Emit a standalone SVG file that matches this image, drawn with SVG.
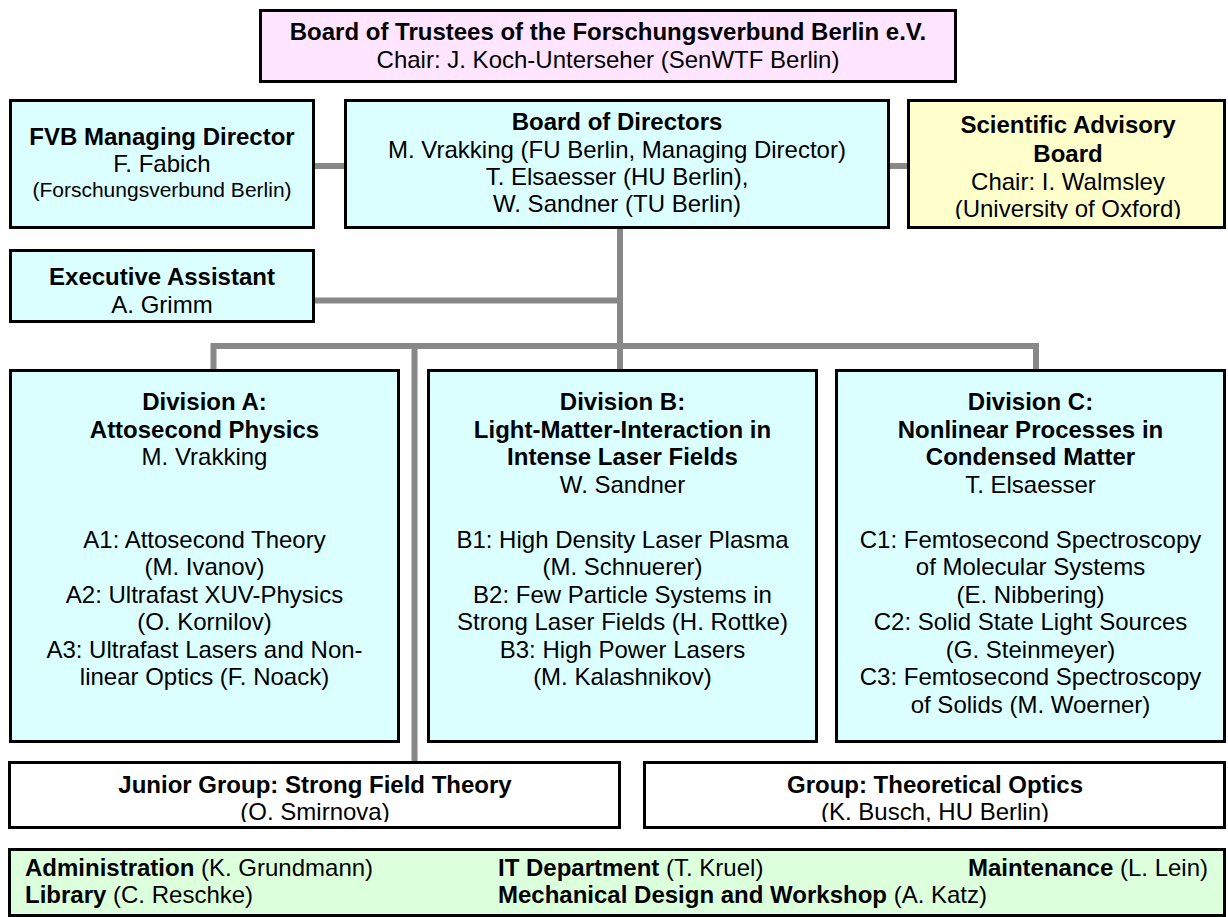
<svg xmlns="http://www.w3.org/2000/svg" width="1228" height="917" viewBox="0 0 1228 917">
<style>
text{font-family:"Liberation Sans",Arial,sans-serif;font-size:24px;fill:#000}
.c{text-anchor:middle}
.b{font-weight:bold}
.sm{font-size:21px}
.box{stroke:#000;stroke-width:3}
.cyan{fill:#dbffff}
.pink{fill:#ffe5ff}
.yellow{fill:#ffffcc}
.white{fill:#ffffff}
.green{fill:#dcffdc}
</style>
<defs>
<clipPath id="clipSAB"><rect x="908" y="100" width="318" height="119"/></clipPath>
<clipPath id="clipJG"><rect x="9" y="762" width="612" height="60"/></clipPath>
<clipPath id="clipTO"><rect x="644" y="762" width="582" height="60"/></clipPath>
</defs>
<rect width="1228" height="917" fill="#fff"/>
<g id="connectors" stroke="#888" stroke-width="6" fill="none" stroke-linejoin="miter">
<line x1="313" y1="166" x2="346" y2="166"/>
<line x1="888" y1="166" x2="909" y2="166"/>
<line x1="620" y1="228" x2="620" y2="370"/>
<line x1="313" y1="300.5" x2="620" y2="300.5"/>
<path d="M213.5 370 V346 H1036 V370"/>
<line x1="414.5" y1="346" x2="414.5" y2="762"/>
</g>
<g id="trustees">
<rect class="box pink" x="260.5" y="10.5" width="695" height="71"/>
<text class="c b" x="608" y="40">Board of Trustees of the Forschungsverbund Berlin e.V.</text>
<text class="c" x="608" y="68">Chair: J. Koch-Unterseher (SenWTF Berlin)</text>
</g>
<g id="fvb">
<rect class="box cyan" x="10.5" y="100.5" width="303" height="127"/>
<text class="c b" x="162" y="145">FVB Managing Director</text>
<text class="c" x="162" y="172">F. Fabich</text>
<text class="c sm" x="162" y="197">(Forschungsverbund Berlin)</text>
</g>
<g id="directors">
<rect class="box cyan" x="345.5" y="100.5" width="543" height="127"/>
<text class="c b" x="617" y="130">Board of Directors</text>
<text class="c" x="617" y="158">M. Vrakking (FU Berlin, Managing Director)</text>
<text class="c" x="617" y="185">T. Elsaesser (HU Berlin),</text>
<text class="c" x="617" y="212">W. Sandner (TU Berlin)</text>
</g>
<g id="advisory">
<rect class="box yellow" x="908.5" y="100.5" width="316" height="127"/>
<text class="c b" x="1068" y="133">Scientific Advisory</text>
<text class="c b" x="1068" y="162">Board</text>
<text class="c" x="1068" y="190">Chair: I. Walmsley</text>
<text class="c" x="1068" y="217" clip-path="url(#clipSAB)">(University of Oxford)</text>
</g>
<g id="assistant">
<rect class="box cyan" x="10.5" y="250.5" width="303" height="71"/>
<text class="c b" x="162" y="285">Executive Assistant</text>
<text class="c" x="162" y="312.5">A. Grimm</text>
</g>
<g id="divA">
<rect class="box cyan" x="10.5" y="370.5" width="388" height="371"/>
<text class="c b" x="204.5" y="410">Division A:</text>
<text class="c b" x="204.5" y="437.5">Attosecond Physics</text>
<text class="c" x="204.5" y="465">M. Vrakking</text>
<text class="c" x="204.5" y="547.5">A1: Attosecond Theory</text>
<text class="c" x="204.5" y="575">(M. Ivanov)</text>
<text class="c" x="204.5" y="602.5">A2: Ultrafast XUV-Physics</text>
<text class="c" x="204.5" y="630">(O. Kornilov)</text>
<text class="c" x="204.5" y="657.5">A3: Ultrafast Lasers and Non-</text>
<text class="c" x="204.5" y="685">linear Optics (F. Noack)</text>
</g>
<g id="divB">
<rect class="box cyan" x="428.5" y="370.5" width="388" height="371"/>
<text class="c b" x="622.5" y="410">Division B:</text>
<text class="c b" x="622.5" y="437.5">Light-Matter-Interaction in</text>
<text class="c b" x="622.5" y="465">Intense Laser Fields</text>
<text class="c" x="622.5" y="492.5">W. Sandner</text>
<text class="c" x="622.5" y="547.5">B1: High Density Laser Plasma</text>
<text class="c" x="622.5" y="575">(M. Schnuerer)</text>
<text class="c" x="622.5" y="602.5">B2: Few Particle Systems in</text>
<text class="c" x="622.5" y="630">Strong Laser Fields (H. Rottke)</text>
<text class="c" x="622.5" y="657.5">B3: High Power Lasers</text>
<text class="c" x="622.5" y="685">(M. Kalashnikov)</text>
</g>
<g id="divC">
<rect class="box cyan" x="836.5" y="370.5" width="388" height="371"/>
<text class="c b" x="1030.5" y="410">Division C:</text>
<text class="c b" x="1030.5" y="437.5">Nonlinear Processes in</text>
<text class="c b" x="1030.5" y="465">Condensed Matter</text>
<text class="c" x="1030.5" y="492.5">T. Elsaesser</text>
<text class="c" x="1030.5" y="547.5">C1: Femtosecond Spectroscopy</text>
<text class="c" x="1030.5" y="575">of Molecular Systems</text>
<text class="c" x="1030.5" y="602.5">(E. Nibbering)</text>
<text class="c" x="1030.5" y="630">C2: Solid State Light Sources</text>
<text class="c" x="1030.5" y="657.5">(G. Steinmeyer)</text>
<text class="c" x="1030.5" y="685">C3: Femtosecond Spectroscopy</text>
<text class="c" x="1030.5" y="712.5">of Solids (M. Woerner)</text>
</g>
<g id="junior">
<rect class="box white" x="9.5" y="762.5" width="610" height="65"/>
<text class="c b" x="315" y="793">Junior Group: Strong Field Theory</text>
<text class="c" x="315" y="820" clip-path="url(#clipJG)">(O. Smirnova)</text>
</g>
<g id="theoptics">
<rect class="box white" x="644.5" y="762.5" width="580" height="65"/>
<text class="c b" x="935" y="793">Group: Theoretical Optics</text>
<text class="c" x="935" y="820" clip-path="url(#clipTO)">(K. Busch, HU Berlin)</text>
</g>
<g id="services">
<rect class="box green" x="9.5" y="849.5" width="1215" height="66"/>
<text x="25" y="876"><tspan class="b">Administration</tspan> (K. Grundmann)</text>
<text x="25" y="903"><tspan class="b">Library</tspan> (C. Reschke)</text>
<text x="498" y="876"><tspan class="b">IT Department</tspan> (T. Kruel)</text>
<text x="498" y="903"><tspan class="b">Mechanical Design and Workshop</tspan> (A. Katz)</text>
<text x="1208" y="876" text-anchor="end"><tspan class="b">Maintenance</tspan> (L. Lein)</text>
</g>
</svg>
